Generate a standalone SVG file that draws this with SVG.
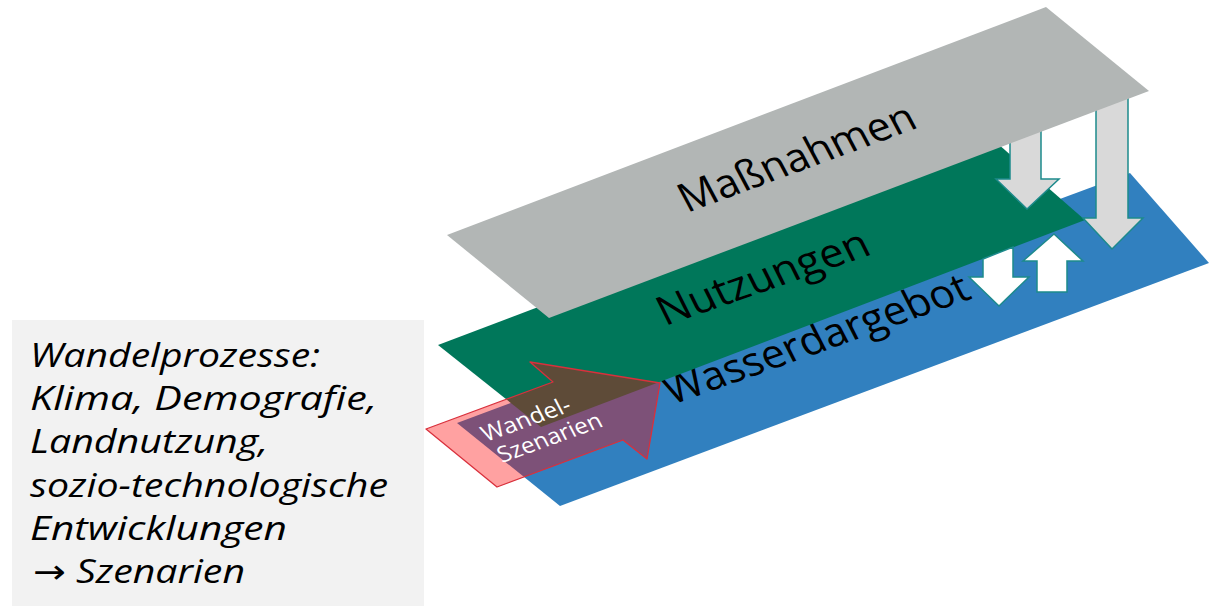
<svg xmlns="http://www.w3.org/2000/svg" width="1213" height="606" viewBox="0 0 1213 606">
<style>
.lbl{font-family:"Open Sans","Noto Sans","DejaVu Sans",sans-serif;font-size:40px;fill:#000}
.small{font-family:"Open Sans","Noto Sans","DejaVu Sans",sans-serif;font-size:22px;fill:#fff}
.side{font-family:"Open Sans","Noto Sans","DejaVu Sans",sans-serif;font-size:33px;font-style:italic;fill:#000}
.garrow{fill:#d9d9d9;stroke:#1d8a8c;stroke-width:1.5}
.warrow{fill:#fff;stroke:#1d8a8c;stroke-width:1.5}
</style>
<rect width="1213" height="606" fill="#fff"/>
<g id="wasserdargebot">
<polygon points="457,423 1130,173 1209,263 560,506" fill="#3180bf"/>
<text class="lbl" transform="translate(672,405) scale(1.2,1) rotate(-23.1)" textLength="273" lengthAdjust="spacingAndGlyphs">Wasserdargebot</text>
</g>
<g id="nutzungen">
<polygon points="438,345 989,136 1085,220 541,427" fill="#00775a"/>
<text class="lbl" transform="translate(665,326) scale(1.2,1) rotate(-22.6)" textLength="188" lengthAdjust="spacingAndGlyphs">Nutzungen</text>
</g>
<g id="connectors">
<polygon class="warrow" points="983,259 1013,247 1013,277 1029,277 999,306 969,277 983,277"/>
<polygon class="warrow" points="1054,234 1083,261 1067,261 1067,292 1037,292 1037,261 1023,261"/>
<polygon class="garrow" points="1096,80 1128,80 1128,218 1143,218 1112,249 1083,218 1096,218"/>
<polygon class="garrow" points="1010,120 1041,120 1041,179 1059,179 1027,209 996,179 1010,179"/>
</g>
<g id="massnahmen">
<polygon points="447,235 1046,7 1149,91 549,318" fill="#b2b6b5"/>
<text class="lbl" transform="translate(687,213) scale(1.2,1) rotate(-23.9)" textLength="212" lengthAdjust="spacingAndGlyphs">Maßnahmen</text>
</g>
<g id="wandel-szenarien">
<polygon points="426,429 553,382 530,362 660,383 647,459 623,440 497,487" fill="#ff0000" fill-opacity="0.37" stroke="#d9303c" stroke-width="1.3" stroke-linejoin="round"/>
<text class="small" transform="translate(486,442) scale(1.2,1) rotate(-23.5)" textLength="79" lengthAdjust="spacingAndGlyphs">Wandel-</text>
<text class="small" transform="translate(502,463) scale(1.2,1) rotate(-23.5)" textLength="93" lengthAdjust="spacingAndGlyphs">Szenarien</text>
</g>
<g id="wandelprozesse">
<rect x="12" y="320" width="412" height="286" fill="#f2f2f2"/>
<text class="side" x="30" y="367" textLength="290" lengthAdjust="spacingAndGlyphs">Wandelprozesse:</text>
<text class="side" x="30" y="410" textLength="347" lengthAdjust="spacingAndGlyphs">Klima, Demografie,</text>
<text class="side" x="30" y="453" textLength="238" lengthAdjust="spacingAndGlyphs">Landnutzung,</text>
<text class="side" x="30" y="497" textLength="358" lengthAdjust="spacingAndGlyphs">sozio-technologische</text>
<text class="side" x="30" y="540" textLength="257" lengthAdjust="spacingAndGlyphs">Entwicklungen</text>
<text class="side" x="33" y="583" textLength="212" lengthAdjust="spacingAndGlyphs">→ Szenarien</text>
</g>
</svg>
